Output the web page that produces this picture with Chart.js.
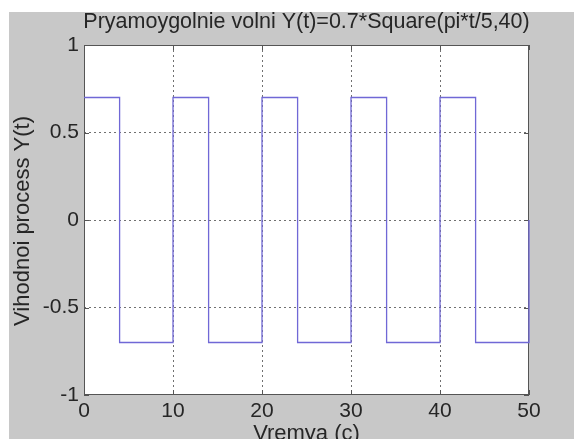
<!DOCTYPE html>
<html>
<head>
<meta charset="utf-8">
<script src="https://cdn.jsdelivr.net/npm/chart.js@4/dist/chart.umd.min.js"></script>
<style>
  html, body { margin: 0; padding: 0; background: #fff; }
  #wrap { position: absolute; left: 9px; top: 12px; width: 565px; height: 427px; background: #c8c8c8; }
</style>
</head>
<body>
<div id="wrap"><canvas id="myChart" width="565" height="427"></canvas></div>
<script>
// switching instants of the square wave (period 10, duty 40%)
var times = [0, 4, 10, 14, 20, 24, 30, 34, 40, 44, 50];
var levels = [0.7, -0.7, 0.7, -0.7, 0.7, -0.7, 0.7, -0.7, 0.7, -0.7, 0];
var xTicks = [0, 10, 20, 30, 40, 50];
var yTicks = [-1, -0.5, 0, 0.5, 1];

var titleText = "Pryamoygolnie volni Y(t)=0.7*Square(pi*t/5,40)";
var xTitle = "Vremya (c)";
var yTitle = "Vihodnoi process Y(t)";

var points = times.map(function (t, i) {
  return { x: t, y: levels[i] };
});

var FONT = "Liberation Sans, Arial, sans-serif";

// white axes box, dark frame with inward ticks (under the curve), and the titles
var boxPlugin = {
  id: "box",
  beforeDraw: function (chart) {
    var a = chart.chartArea;
    var c = chart.ctx;
    c.save();
    c.fillStyle = "#ffffff";
    c.fillRect(a.left, a.top, a.right - a.left, a.bottom - a.top);
    c.restore();
  },
  beforeDatasetsDraw: function (chart) {
    var a = chart.chartArea;
    var c = chart.ctx;
    var xs = chart.scales.x, ys = chart.scales.y;
    c.save();
    c.strokeStyle = "#555555";
    c.lineWidth = 1;
    c.strokeRect(a.left + 0.5, a.top + 0.5, a.right - a.left - 1, a.bottom - a.top - 1);
    c.beginPath();
    xTicks.forEach(function (v) {
      var px = Math.round(xs.getPixelForValue(v)) + 0.5;
      c.moveTo(px, a.bottom); c.lineTo(px, a.bottom - 5);
      c.moveTo(px, a.top); c.lineTo(px, a.top + 5);
    });
    yTicks.forEach(function (v) {
      var py = Math.round(ys.getPixelForValue(v)) + 0.5;
      c.moveTo(a.left, py); c.lineTo(a.left + 5, py);
      c.moveTo(a.right, py); c.lineTo(a.right - 5, py);
    });
    c.stroke();
    c.restore();
  },
  afterDraw: function (chart) {
    var a = chart.chartArea;
    var c = chart.ctx;
    c.save();
    c.fillStyle = "#262626";
    c.textAlign = "center";
    c.textBaseline = "alphabetic";
    c.font = "21.5px " + FONT;
    c.fillText(titleText, (a.left + a.right) / 2, 16);
    c.font = "22px " + FONT;
    c.fillText(xTitle, (a.left + a.right) / 2, 428);
    c.translate(20, 209);
    c.rotate(-Math.PI / 2);
    c.fillText(yTitle, 0, 0);
    c.restore();
  }
};

var gridColor = function (ctx) {
  var v = ctx.tick ? ctx.tick.value : null;
  if (v === -1 || v === 1 || (v === 0 && ctx.scale.id === "x") || v === 50) return "rgba(0,0,0,0)";
  return "#707070";
};

var ctx = document.getElementById("myChart").getContext("2d");
var myChart = new Chart(ctx, {
  type: "line",
  data: {
    datasets: [
      {
        data: points,
        borderColor: "rgb(112, 104, 214)",
        borderWidth: 1.3,
        stepped: "before",
        pointRadius: 0,
        fill: false,
        clip: 2,
      },
    ],
  },
  options: {
    responsive: false,
    animation: false,
    layout: { padding: { top: 33, right: 45, left: 0, bottom: 0 } },
    plugins: { legend: { display: false }, tooltip: { enabled: false } },
    scales: {
      x: {
        type: "linear",
        min: 0,
        max: 50,
        afterFit: function (s) { s.height = 44; },
        afterBuildTicks: function (s) { s.ticks = xTicks.map(function (v) { return { value: v }; }); },
        grid: { color: gridColor, drawTicks: false, lineWidth: 1 },
        border: { display: false, dash: [2, 3] },
        ticks: {
          color: "#262626", padding: 4, maxRotation: 0,
          font: { family: FONT, size: 21 },
          callback: function (v) { return String(v); },
        },
      },
      y: {
        min: -1,
        max: 1,
        afterFit: function (s) { s.width = 75; },
        afterBuildTicks: function (s) { s.ticks = yTicks.map(function (v) { return { value: v }; }); },
        grid: { color: gridColor, drawTicks: false, lineWidth: 1 },
        border: { display: false, dash: [2, 3] },
        ticks: {
          color: "#262626", padding: 5,
          font: { family: FONT, size: 21 },
          callback: function (v) { return String(v); },
        },
      },
    },
  },
  plugins: [boxPlugin],
});
</script>
</body>
</html>
